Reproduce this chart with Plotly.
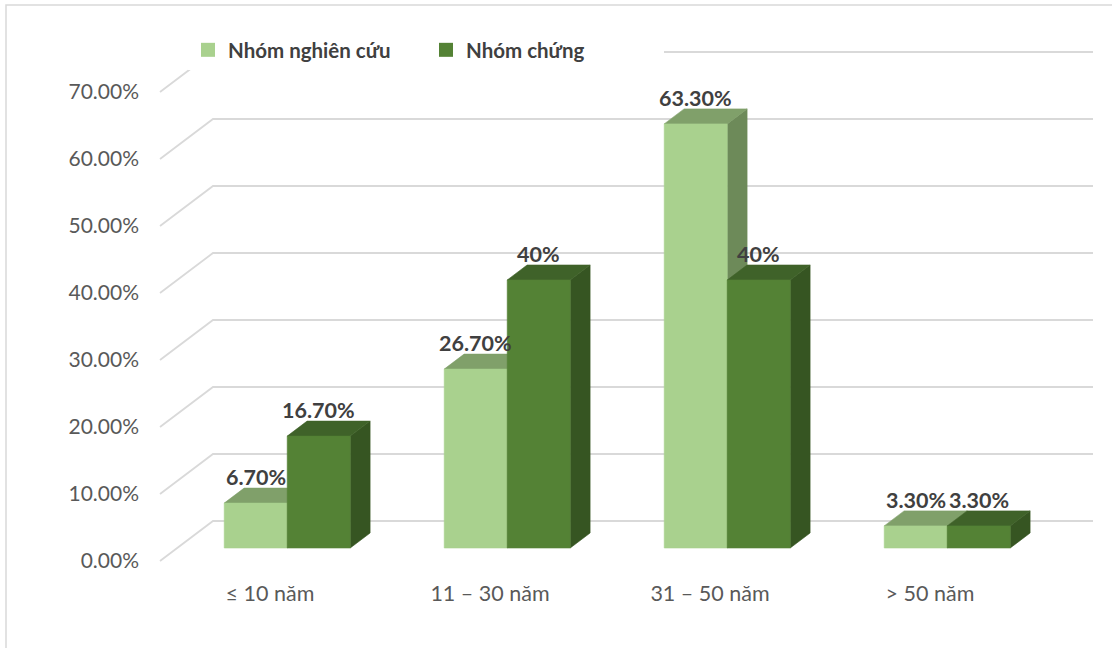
import plotly.graph_objects as go

# ---- data ----
categories = ["≤ 10 năm", "11 – 30 năm", "31 – 50 năm", "> 50 năm"]
series_names = ["Nhóm nghiên cứu", "Nhóm chứng"]
nghien_cuu = [6.7, 26.7, 63.3, 3.3]
chung = [16.7, 40.0, 40.0, 3.3]
labels_nghien_cuu = ["6.70%", "26.70%", "63.30%", "3.30%"]
labels_chung = ["16.70%", "40%", "40%", "3.30%"]
y_ticks = [0, 10, 20, 30, 40, 50, 60, 70]
y_tick_labels = ["0.00%", "10.00%", "20.00%", "30.00%", "40.00%", "50.00%", "60.00%", "70.00%"]

# ---- styling / 3D projection parameters ----
DX = 53 / 220      # horizontal shift (category units) over the full floor depth
DY = 40 / 6.7      # vertical shift (% units) over the full floor depth
ZF, ZB = 0.325, 0.70   # bar front / back depth
W = 63 / 220       # bar width (category units)
FLOOR = (-0.5, 3.5)

colors = {
    0: dict(front="#A9D18E", top="#80A06A", side="#6D8A59", legend="#A9D18E"),
    1: dict(front="#548235", top="#3F6229", side="#365522", legend="#548235"),
}
GRID = "#D9D9D9"
TXT = "#595959"
LBL = "#404040"
FONT = "Lato"


def P(c, v, z):
    return c + z * DX, v + z * DY


def poly(pts):
    xs, ys = [], []
    for c, v, z in pts:
        x, y = P(c, v, z)
        xs.append(x)
        ys.append(y)
    xs.append(xs[0]); ys.append(ys[0])
    return xs, ys


fig = go.Figure()

# gridlines: diagonal on the floor side + horizontal on the back wall
gx, gy = [], []
for t in y_ticks:
    for (c, z) in [(FLOOR[0], 0), (FLOOR[0], 1), (FLOOR[1], 1)]:
        x, y = P(c, t, z)
        gx.append(x); gy.append(y)
    gx.append(None); gy.append(None)
fig.add_trace(go.Scatter(x=gx, y=gy, mode="lines", line=dict(color=GRID, width=1.8),
                         hoverinfo="skip", showlegend=False))

series_vals = [nghien_cuu, chung]
for s, vals in enumerate(series_vals):
    faces = {"side": ([], []), "top": ([], []), "front": ([], [])}
    for i, v in enumerate(vals):
        xl = i + (s - 1) * W
        xr = xl + W
        shapes = {
            "side": [(xr, 0, ZF), (xr, v, ZF), (xr, v, ZB), (xr, 0, ZB)],
            "top": [(xl, v, ZF), (xr, v, ZF), (xr, v, ZB), (xl, v, ZB)],
            "front": [(xl, 0, ZF), (xr, 0, ZF), (xr, v, ZF), (xl, v, ZF)],
        }
        for k, pts in shapes.items():
            xs, ys = poly(pts)
            faces[k][0].extend(xs + [None])
            faces[k][1].extend(ys + [None])
    for k in ["side", "top", "front"]:
        col = colors[s][k]
        fig.add_trace(go.Scatter(x=faces[k][0], y=faces[k][1], mode="lines", fill="toself",
                                 fillcolor=col, line=dict(color=col, width=0.6),
                                 hoverinfo="skip", showlegend=False))

# legend entries
for s, name in enumerate(series_names):
    fig.add_trace(go.Scatter(x=[None], y=[None], mode="markers", name=name,
                             marker=dict(symbol="square", size=14, color=colors[s]["legend"])))

# data labels
annotations = []
for s, (vals, labs) in enumerate([(nghien_cuu, labels_nghien_cuu), (chung, labels_chung)]):
    for i, (v, lab) in enumerate(zip(vals, labs)):
        xc = i + (s - 1) * W + W / 2
        x, _ = P(xc, v, ZF)
        _, y = P(xc, v, ZB)
        annotations.append(dict(x=x, y=y, text=lab, showarrow=False, xanchor="center",
                                yanchor="bottom", yshift=-4,
                                font=dict(family=FONT, size=21.5, color=LBL, weight=700)))

L, R, T, B = 150, 1100, 30, 575
x_range = [(L - 270) / 220, (R - 270) / 220]
y_range = [(561 - B) / 6.7, (561 - T) / 6.7]

fig.update_layout(
    width=1112, height=648,
    margin=dict(l=L, r=1112 - R, t=T, b=648 - B),
    paper_bgcolor="white", plot_bgcolor="white",
    font=dict(family=FONT, color=TXT),
    showlegend=True,
    legend=dict(orientation="h", x=(188 - L) / (R - L), y=(B - 30) / (B - T),
                xanchor="left", yanchor="top", bgcolor="white",
                font=dict(family=FONT, size=20.5, color=LBL, weight=700),
                entrywidth=193, itemwidth=30),
    annotations=annotations,
    shapes=[dict(type="rect", xref="paper", yref="paper",
                 x0=(6 - L) / (R - L), x1=2, y0=-2, y1=(B - 5) / (B - T),
                 line=dict(color="#D9D9D9", width=1.5), fillcolor="rgba(0,0,0,0)",
                 layer="below")],
    xaxis=dict(range=x_range, showgrid=False, zeroline=False, showline=False,
               tickmode="array", tickvals=list(range(len(categories))), ticktext=categories,
               tickfont=dict(family=FONT, size=21.5, color=TXT), ticks="",
               ticklabelstandoff=3, fixedrange=True),
    yaxis=dict(range=y_range, showgrid=False, zeroline=False, showline=False,
               tickmode="array", tickvals=y_ticks, ticktext=y_tick_labels,
               tickfont=dict(family=FONT, size=21, color=TXT), ticks="",
               ticklabelstandoff=10, fixedrange=True),
)

fig.write_html("out.html")
